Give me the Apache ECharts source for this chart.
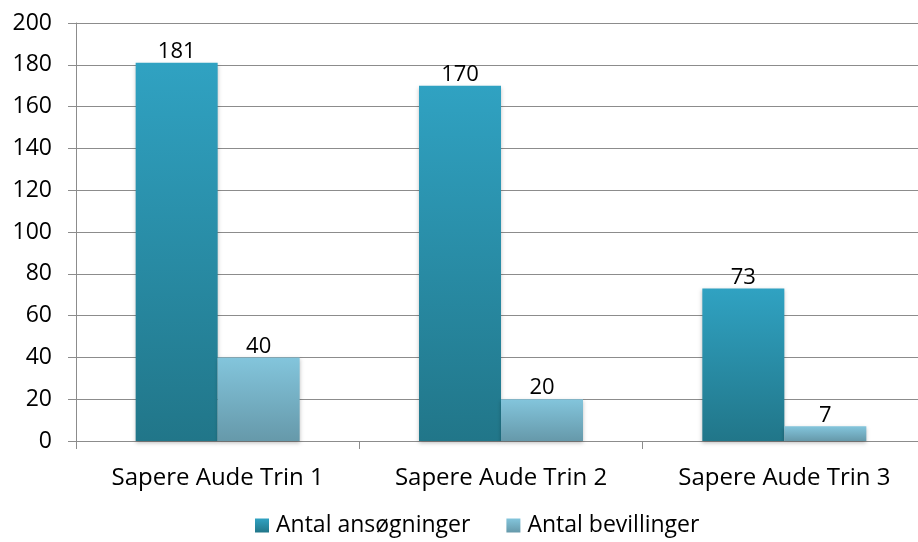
<!DOCTYPE html>
<html><head><meta charset="utf-8">
<script src="https://cdn.jsdelivr.net/npm/echarts@6/dist/echarts.min.js"></script>
<style>html,body{margin:0;padding:0;background:#fff;overflow:hidden}#c{width:930px;height:542px}</style>
</head><body><div id="c"></div>
<script>
const categories = ['Sapere Aude Trin 1', 'Sapere Aude Trin 2', 'Sapere Aude Trin 3'];
const seriesNames = ['Antal ansøgninger', 'Antal bevillinger'];
const ansogninger = [181, 170, 73];
const bevillinger = [40, 20, 7];
const yTicks = [0, 20, 40, 60, 80, 100, 120, 140, 160, 180, 200];

const font = 'Open Sans';
function grad(top, bottom) {
  return new echarts.graphic.LinearGradient(0, 0, 0, 1, [
    {offset: 0, color: top}, {offset: 1, color: bottom}
  ]);
}
const chart = echarts.init(document.getElementById('c'), null, {renderer: 'canvas'});
chart.setOption({
  animation: false,
  textStyle: {fontFamily: font},
  grid: {left: 76, top: 23, right: 4, bottom: 101, containLabel: false},
  legend: {
    bottom: 0, left: 250, itemWidth: 14, itemHeight: 14, itemGap: 36,
    icon: 'rect',
    textStyle: {fontFamily: font, fontSize: 23, color: '#000', padding: [0, 0, 0, 2]},
    data: seriesNames
  },
  xAxis: {
    type: 'category', data: categories,
    axisLine: {lineStyle: {color: '#8c8c8c', width: 1}},
    axisTick: {show: true, length: 8, lineStyle: {color: '#8c8c8c'}},
    axisLabel: {fontFamily: font, fontSize: 24, color: '#000', margin: 25}
  },
  yAxis: {
    type: 'value', min: yTicks[0], max: yTicks[yTicks.length - 1], interval: 20,
    axisLine: {show: true, lineStyle: {color: '#8c8c8c'}},
    axisTick: {show: true, length: 8, lineStyle: {color: '#8c8c8c'}},
    splitLine: {lineStyle: {color: '#8c8c8c', width: 1}},
    axisLabel: {fontFamily: font, fontSize: 23, color: '#000', margin: 24}
  },
  series: [
    {
      name: seriesNames[0], type: 'bar', data: ansogninger, barWidth: 82, barGap: '0%',
      itemStyle: {color: grad('#30a2c2', '#217689'), shadowColor: 'rgba(0,0,0,0.25)', shadowBlur: 4, shadowOffsetY: 2},
      label: {show: true, position: 'top', distance: 0, fontFamily: font, fontSize: 22, color: '#000'}
    },
    {
      name: seriesNames[1], type: 'bar', data: bevillinger, barWidth: 82,
      itemStyle: {color: grad('#83c5dc', '#6699aa'), shadowColor: 'rgba(0,0,0,0.25)', shadowBlur: 4, shadowOffsetY: 2},
      label: {show: true, position: 'top', distance: 0, fontFamily: font, fontSize: 22, color: '#000'}
    }
  ]
});
</script></body></html>
